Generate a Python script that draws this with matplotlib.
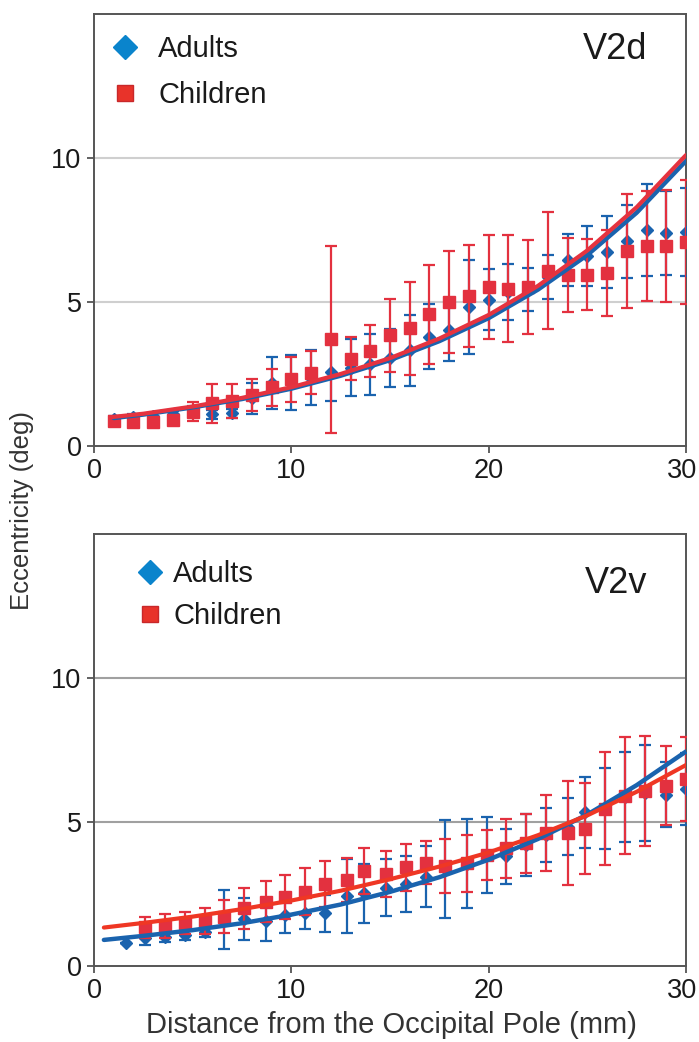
import matplotlib
matplotlib.use("Agg")
import matplotlib.pyplot as plt
from matplotlib.lines import Line2D
from matplotlib.transforms import ScaledTranslation

plt.rcParams['font.family'] = ['Liberation Sans', 'DejaVu Sans']

# ---- V2d (top panel) ----
top_x = list(range(1, 31))
top_adults = [0.95, 1.00, 1.05, 1.10, 1.20, 1.10, 1.13, 1.65, 2.18, 2.20,
              2.37, 2.56, 2.72, 2.83, 3.06, 3.32, 3.80, 4.04, 4.83, 5.08,
              5.35, 5.42, 5.86, 6.45, 6.60, 6.72, 7.10, 7.50, 7.40, 7.42]
top_adults_err = [0.10, 0.10, 0.10, 0.10, 0.20, 0.15, 0.15, 0.55, 0.90, 0.95,
                  0.95, 1.00, 1.00, 1.05, 1.00, 1.23, 1.14, 1.10, 1.62, 1.07,
                  0.97, 0.75, 0.76, 0.90, 1.03, 1.25, 1.27, 1.59, 1.46, 1.53]
top_children = [0.87, 0.83, 0.83, 0.90, 1.19, 1.48, 1.56, 1.77, 2.04, 2.32,
                2.55, 3.71, 3.03, 3.31, 3.84, 4.08, 4.57, 4.99, 5.20, 5.51,
                5.46, 5.52, 6.09, 5.93, 5.95, 6.00, 6.77, 6.94, 6.94, 7.08]
top_children_err = [0.15, 0.15, 0.15, 0.15, 0.33, 0.67, 0.60, 0.55, 0.65, 0.78,
                    0.76, 3.25, 0.75, 0.90, 1.27, 1.60, 1.72, 1.77, 1.77, 1.80,
                    1.86, 1.63, 2.02, 1.28, 1.24, 1.50, 1.97, 1.90, 1.94, 2.15]

# fitted curves
top_fit_x_adults = [1.0, 2.5, 5, 7.5, 10, 12.5, 15, 17.5, 20, 22.5, 25, 27.5, 30]
top_fit_adults = [0.97, 1.09, 1.34, 1.63, 1.99, 2.44, 2.98, 3.64, 4.44, 5.43, 6.63, 8.10, 9.90]
top_fit_x_children = [0.85, 2.5, 5, 7.5, 10, 12.5, 15, 17.5, 20, 22.5, 25, 27.5, 30]
top_fit_children = [1.00, 1.12, 1.37, 1.67, 2.04, 2.50, 3.05, 3.73, 4.55, 5.56, 6.79, 8.29, 10.10]

# ---- V2v (bottom panel) ----
bot_x_adults = [1.6, 2.6, 3.6, 4.6, 5.6, 6.6, 7.6, 8.7, 9.7, 10.7,
                11.7, 12.8, 13.7, 14.8, 15.8, 16.8, 17.8, 18.9, 19.9, 20.9,
                21.9, 22.9, 24.0, 24.9, 25.9, 26.9, 27.9, 29.0, 30.0]
bot_adults = [0.77, 0.95, 1.00, 1.06, 1.18, 1.60, 1.60, 1.55, 1.76, 1.84,
              1.82, 2.42, 2.51, 2.71, 2.83, 3.09, 3.35, 3.54, 3.85, 3.79,
              4.18, 4.54, 4.83, 5.32, 5.45, 5.85, 6.00, 5.93, 6.13]
bot_adults_err = [0.0, 0.24, 0.17, 0.17, 0.20, 1.03, 0.73, 0.70, 0.64, 0.58,
                  0.64, 1.30, 1.02, 0.99, 0.98, 1.05, 1.71, 1.55, 1.32, 0.95,
                  1.07, 0.94, 1.00, 1.25, 1.40, 1.57, 1.66, 1.13, 1.25]
bot_x_children = bot_x_adults[1:]
bot_children = [1.33, 1.37, 1.48, 1.54, 1.70, 1.99, 2.22, 2.39, 2.57, 2.82,
                2.97, 3.29, 3.18, 3.41, 3.58, 3.46, 3.55, 3.84, 4.08, 4.25,
                4.62, 4.60, 4.76, 5.45, 5.90, 6.07, 6.25, 6.49]
bot_children_err = [0.37, 0.42, 0.38, 0.45, 0.57, 0.71, 0.72, 0.77, 0.83, 0.80,
                    0.76, 0.79, 0.80, 0.81, 0.76, 0.93, 0.98, 0.86, 1.03, 1.03,
                    1.32, 1.81, 1.58, 1.97, 2.03, 1.90, 1.37, 1.47]

bot_fit_x = [0.5, 2.5, 5, 7.5, 10, 12.5, 15, 17.5, 20, 22.5, 25, 27.5, 30]
bot_fit_adults = [0.89, 1.03, 1.23, 1.47, 1.77, 2.12, 2.56, 3.07, 3.68, 4.40, 5.25, 6.27, 7.44]
bot_fit_children = [1.32, 1.48, 1.70, 1.96, 2.26, 2.60, 3.00, 3.44, 3.93, 4.53, 5.22, 6.04, 6.97]

x_ticks = [0, 10, 20, 30]
y_ticks = [0, 5, 10]

BLUE = '#1a63ae'
RED = '#e3313f'
LEG_BLUE = '#0a84cc'
LEG_RED = '#e8332a'
TICK_FS = 19.5
LEG_FS = 21


def draw_panel(ax, xa, ya, ea, xc, yc, ec, fxa, fa, fxc, fc, red_fit, grid_col,
               name, name_y, leg_anchor, leg_hl, leg_pad, leg_space):
    ax.errorbar(xa, ya, yerr=ea, fmt='D', color=BLUE, ms=6.5, elinewidth=1.6,
                capsize=4, capthick=1.6, zorder=3)
    ax.errorbar(xc, yc, yerr=ec, fmt='s', color=RED, ms=8.5, elinewidth=1.6,
                capsize=4, capthick=1.6, zorder=4)
    ax.plot(fxa, fa, color=BLUE, lw=3.2, zorder=5, solid_capstyle='round')
    ax.plot(fxc, fc, color=red_fit, lw=3.0, zorder=6, solid_capstyle='round')

    ax.set_xlim(0, 30)
    ax.set_ylim(0, 15)
    ax.set_xticks(x_ticks)
    ax.set_yticks(y_ticks)
    ax.tick_params(labelsize=TICK_FS, length=5, width=1.3, color='#555555',
                   labelcolor='#1a1a1a', pad=4)
    # nudge the "30" label so it stays inside the figure
    last = ax.get_xticklabels()[-1]
    last.set_transform(last.get_transform() +
                       ScaledTranslation(-3 / 72, 0, ax.figure.dpi_scale_trans))
    for s in ax.spines.values():
        s.set_color('#555555')
        s.set_linewidth(1.4)
    for v in [5, 10]:
        ax.axhline(v, color=grid_col, lw=1.5, zorder=1)

    handles = [Line2D([], [], marker='D', ls='none', color=LEG_BLUE, ms=12.5),
               Line2D([], [], marker='s', ls='none', color=LEG_RED,
                      markeredgecolor='#c8282a', ms=12)]
    leg = ax.legend(handles, ['Adults', 'Children'], loc='upper left',
                    bbox_to_anchor=leg_anchor, frameon=False, fontsize=LEG_FS,
                    handlelength=leg_hl, handletextpad=leg_pad,
                    labelspacing=leg_space, borderaxespad=0, borderpad=0)
    for t in leg.get_texts():
        t.set_color('#1a1a1a')
    ax.text(0.935, name_y, name, transform=ax.transAxes, ha='right', va='center',
            fontsize=26, color='#1a1a1a')


fig = plt.figure(figsize=(6.99, 10.42), dpi=100)
ax1 = fig.add_axes([0.1345, 0.5720, 0.8469, 0.4146])
ax2 = fig.add_axes([0.1345, 0.0734, 0.8469, 0.4141])

draw_panel(ax1, top_x, top_adults, top_adults_err, top_x, top_children,
           top_children_err, top_fit_x_adults, top_fit_adults,
           top_fit_x_children, top_fit_children, '#e5333f', '#cfcfcf', 'V2d',
           0.917, (0.028, 0.951), 1.0, 0.63, 0.61)
draw_panel(ax2, bot_x_adults, bot_adults, bot_adults_err, bot_x_children,
           bot_children, bot_children_err, bot_fit_x, bot_fit_adults,
           bot_fit_x, bot_fit_children, '#ef3724', '#a0a0a0', 'V2v',
           0.886, (0.075, 0.939), 0.8, 0.39, 0.48)

fig.text(0.032, 0.51, 'Eccentricity (deg)', rotation=90, ha='center',
         va='center', fontsize=18.5, color='#333333')
fig.text(0.56, 0.016, 'Distance from the Occipital Pole (mm)', ha='center',
         va='center', fontsize=21, color='#333333')

fig.savefig('out.png', dpi=100)
